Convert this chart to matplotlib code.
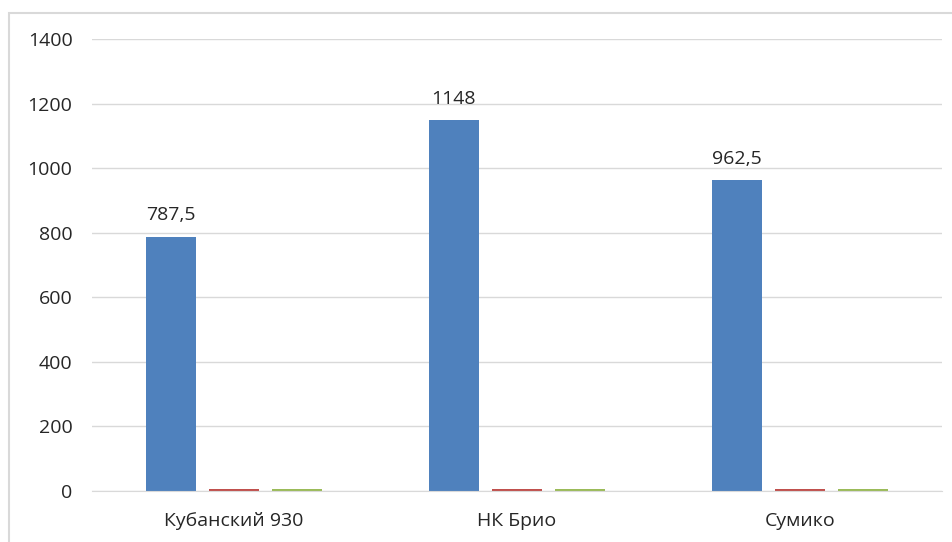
import matplotlib.pyplot as plt
import numpy as np
from matplotlib.patches import Rectangle

sorta = ['Кубанский 930', 'НК Брио', 'Сумико']
ryad1 = [787.5, 1148, 962.5]
ryad2 = [5, 5, 5]
ryad3 = [5, 5, 5]
yticks = [0, 200, 400, 600, 800, 1000, 1200, 1400]

plt.rcParams['font.family'] = ['Open Sans', 'DejaVu Sans']

fig = plt.figure(figsize=(9.52, 5.42), dpi=100)
ax = fig.add_axes([92 / 952, 1 - 491 / 542, (942 - 92) / 952, (491 - 39) / 542])

# рамка области диаграммы
fig.patches.append(Rectangle((9 / 952, -0.2), 1.2, 1.2 - 13 / 542,
                             transform=fig.transFigure, fill=False,
                             edgecolor='#d9d9d9', linewidth=1.5))

x = np.arange(len(sorta))
w = 50 / 283
shag = 63 / 283
bars = ax.bar(x - shag, ryad1, w, color='#4f81bd', zorder=3)
ax.bar(x, ryad2, w, color='#c0504d', zorder=3)
ax.bar(x + shag, ryad3, w, color='#9bbb59', zorder=3)

for b, v in zip(bars, ryad1):
    txt = ('%g' % v).replace('.', ',')
    ax.annotate(txt, (b.get_x() + b.get_width() / 2, v), xytext=(0, 9),
                textcoords='offset points', ha='center', va='bottom',
                fontsize=14, color='#262626')

ax.set_xlim(-0.5, 2.5)
ax.set_ylim(0, 1400)
ax.set_yticks(yticks)
ax.set_xticks(x)
ax.set_xticklabels(sorta)
ax.tick_params(axis='both', length=0, labelsize=14, labelcolor='#262626')
ax.tick_params(axis='y', pad=14)
ax.tick_params(axis='x', pad=15)
ax.grid(axis='y', color='#d9d9d9', linewidth=1, zorder=0)
for s in ['top', 'right', 'left']:
    ax.spines[s].set_visible(False)
ax.spines['bottom'].set_color('#d9d9d9')
ax.spines['bottom'].set_zorder(4)

fig.savefig('out.png', dpi=100)
